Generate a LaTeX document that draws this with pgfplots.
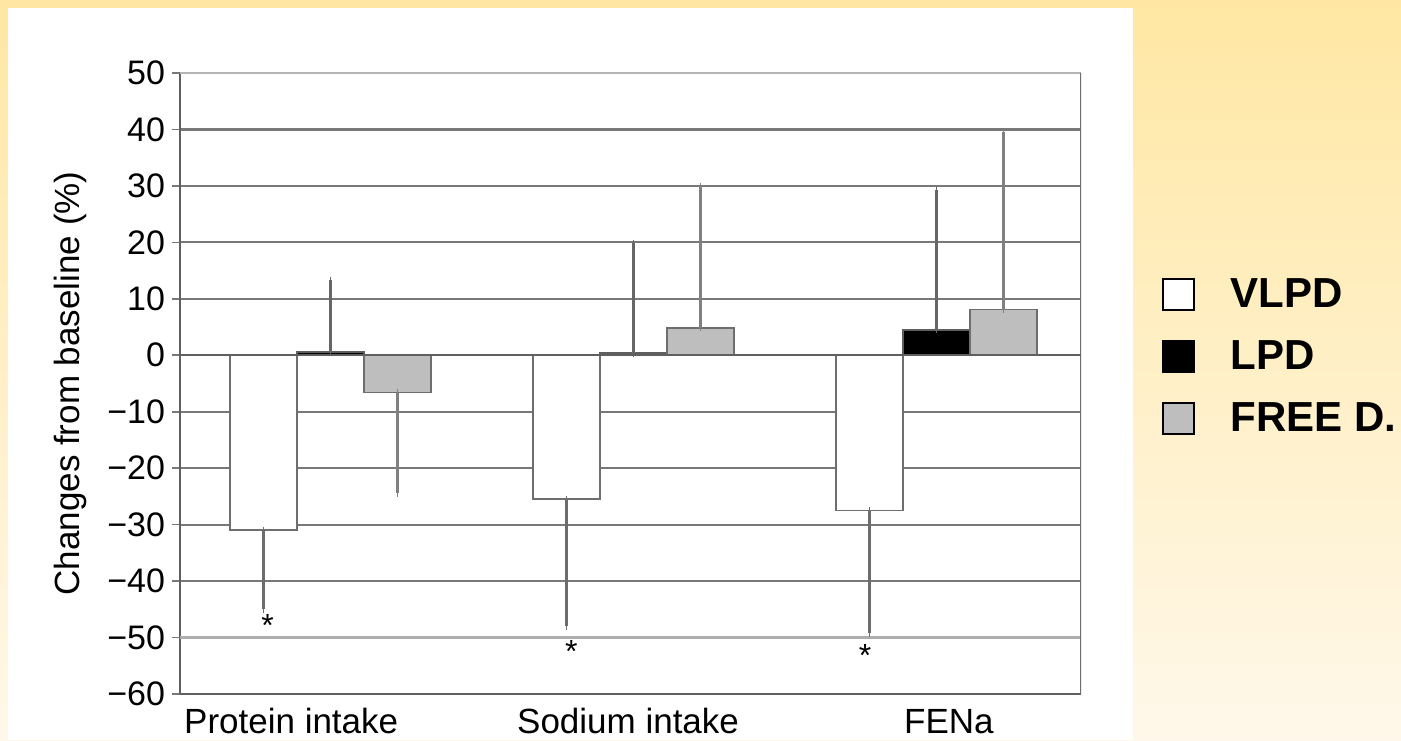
\documentclass[border=0pt]{standalone}
\usepackage{pgfplots}
\pgfplotsset{compat=1.18}
\usepackage{fontspec}
\setmainfont{Liberation Sans}
\definecolor{bgtop}{RGB}{255,231,163}
\definecolor{bgbot}{RGB}{255,248,234}
\definecolor{gridc}{RGB}{120,120,120}
\definecolor{axc}{RGB}{95,95,95}
\definecolor{freec}{RGB}{190,190,190}
\definecolor{outl}{RGB}{110,110,110}
\begin{document}
\begin{tikzpicture}
\shade[top color=bgtop, bottom color=bgbot] (0,0) rectangle (700.5pt,370pt);
\fill[white] (4pt,0) rectangle (566.5pt,366pt);
\begin{axis}[
  at={(90pt,23pt)}, anchor=south west,
  scale only axis, width=450.5pt, height=310.5pt,
  xmin=-0.497, xmax=2.477, ymin=-60, ymax=50,
  axis lines*=left,
  axis line style={-, draw=axc, line width=1pt},
  ytick={-60,-50,...,50},
  yticklabels={−60,−50,−40,−30,−20,−10,0,10,20,30,40,50},
  xtick={-0.130,0.982,2.041},
  xticklabels={Protein intake,Sodium intake,FENa},
  xtick style={draw=none},
  ytick style={draw=gridc, line width=0.8pt},
  tick align=outside, major tick length=4pt,
  ymajorgrids, grid style={draw=gridc, line width=1.1pt},
  yticklabel style={font=\fontsize{17}{19}\selectfont},
  xticklabel style={font=\fontsize{17.5}{19}\selectfont, anchor=base, inner sep=0pt, yshift=-15.5pt},
  ylabel={Changes from baseline (\%)},
  ylabel style={at={(axis description cs:-0.122,0.5)}, anchor=center, font=\fontsize{17.5}{19}\selectfont},
  legend image code/.code={\draw[#1, draw=black, line width=1pt] (0pt,-7.75pt) rectangle (15.5pt,7.75pt);},
  legend style={draw=none, fill=none, at={(axis description cs:1.09,0.544)}, anchor=west,
    inner sep=0pt, font=\fontsize{21}{24}\selectfont\bfseries,
    row sep=11pt, /tikz/every odd column/.append style={column sep=15.5pt}},
  legend cell align=left,
]
\draw[draw=gridc!60!white, line width=1.6pt] (axis cs:-0.497,-50) -- (axis cs:2.477,-50);
\draw[draw=gridc!55!white, line width=1pt] (axis cs:-0.497,50) -- (axis cs:2.477,50);
\draw[draw=outl, line width=1pt] (rel axis cs:1,0) -- (rel axis cs:1,1);
% VLPD
\addplot[ybar, bar width=33.5pt, bar shift=0pt, fill=white, draw=outl, line width=0.9pt, forget plot,
  error bars/.cd, y dir=both, y explicit,
  error bar style={draw=gray!85!black, line width=1.2pt}, error mark options={draw=gray!85!black, mark size=1.8pt}]
  table[x=x, y=y, y error plus=ep, y error minus=em] {
  x y ep em
  -0.2211 -31.0 0 14.0
  0.7789 -25.5 0 22.5
  1.7789 -27.5 0 21.7
};
% LPD
\addplot[ybar, bar width=33.5pt, bar shift=0pt, fill=black, draw=axc, line width=0.9pt, forget plot,
  error bars/.cd, y dir=both, y explicit,
  error bar style={draw=gray!80!black, line width=1.2pt}, error mark options={draw=gray!80!black, mark size=1.8pt}]
  table[x=x, y=y, y error plus=ep, y error minus=em] {
  x y ep em
  0 0.6 12.7 0
  1 0.4 19.4 0
  2 4.5 24.7 0
};
% FREE D.
\addplot[ybar, bar width=33.5pt, bar shift=0pt, fill=freec, draw=outl, line width=0.9pt, forget plot,
  error bars/.cd, y dir=both, y explicit,
  error bar style={draw=gray, line width=1.2pt}, error mark options={draw=gray, mark size=1.8pt}]
  table[x=x, y=y, y error plus=ep, y error minus=em] {
  x y ep em
  0.2211 -6.6 0 17.8
  1.2211 4.9 25.0 0
  2.2211 8.1 31.4 0
};
\draw[draw=axc, line width=1pt] (axis cs:-0.497,0) -- (axis cs:2.477,0);
\node[font=\fontsize{16}{18}\selectfont] at (axis cs:-0.208,-47.8) {*};
\node[font=\fontsize{16}{18}\selectfont] at (axis cs:0.795,-52.5) {*};
\node[font=\fontsize{16}{18}\selectfont] at (axis cs:1.764,-53.1) {*};
\addlegendimage{fill=white}
\addlegendentry{VLPD}
\addlegendimage{fill=black}
\addlegendentry{LPD}
\addlegendimage{fill=freec}
\addlegendentry{FREE D.}
\end{axis}
\pgfresetboundingbox
\path (0,0) rectangle (700.5pt,370pt);
\end{tikzpicture}
\end{document}
